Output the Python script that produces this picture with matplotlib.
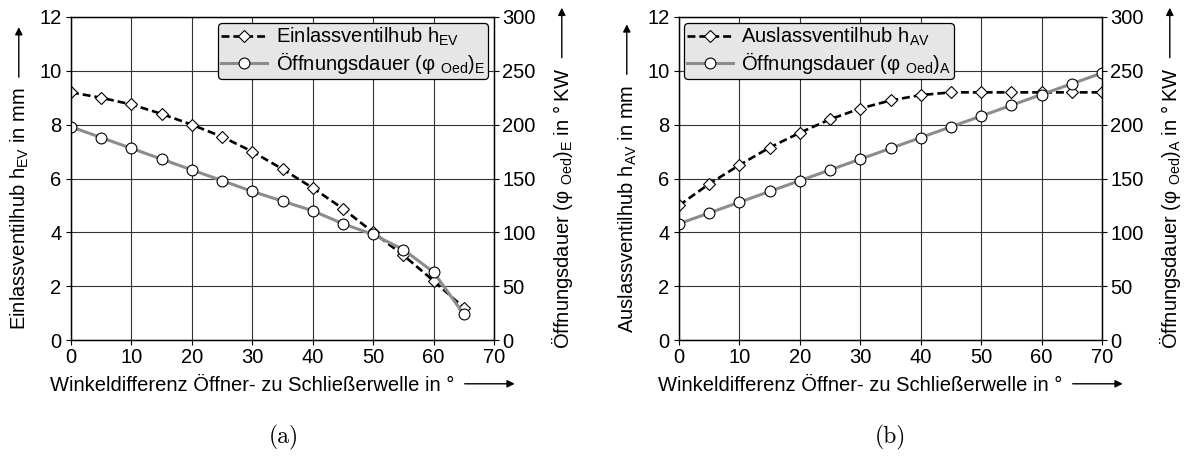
import matplotlib
matplotlib.use("Agg")
import matplotlib.pyplot as plt
from matplotlib.patches import FancyArrowPatch

# MARK: data

x_ev = [0, 5, 10, 15, 20, 25, 30, 35, 40, 45, 50, 55, 60, 65]
h_ev = [9.2, 9.0, 8.75, 8.4, 8.0, 7.55, 7.0, 6.35, 5.65, 4.88, 4.0, 3.15, 2.2, 1.2]
phi_e = [198, 188, 178, 168, 158, 148, 138, 129, 120, 108, 98, 84, 63, 24]

x_av = [0, 5, 10, 15, 20, 25, 30, 35, 40, 45, 50, 55, 60, 65, 70]
h_av = [5.0, 5.8, 6.5, 7.15, 7.7, 8.2, 8.6, 8.9, 9.1, 9.2, 9.2, 9.2, 9.2, 9.2, 9.2]
phi_a = [108, 118, 128, 138, 148, 158, 168, 178, 188, 198, 208, 218, 228, 238, 248]

x_ticks = [0, 10, 20, 30, 40, 50, 60, 70]
h_ticks = [0, 2, 4, 6, 8, 10, 12]
phi_ticks = [0, 50, 100, 150, 200, 250, 300]

xlabel = "Winkeldifferenz Öffner- zu Schließerwelle in °"
panels = [
    dict(x=x_ev, h=h_ev, phi=phi_e,
         h_name=r"Einlassventilhub h$_{\mathrm{EV}}$",
         phi_name=r"Öffnungsdauer (φ $_{\mathrm{Oed}}$)$_{\mathrm{E}}$",
         ylabel=r"Einlassventilhub h$_{\mathrm{EV}}$ in mm",
         y2label="Öffnungsdauer (φ $_{\\mathrm{Oed}}$)$_{\\mathrm{E}}$ in °\u2009KW",
         caption="(a)"),
    dict(x=x_av, h=h_av, phi=phi_a,
         h_name=r"Auslassventilhub h$_{\mathrm{AV}}$",
         phi_name=r"Öffnungsdauer (φ $_{\mathrm{Oed}}$)$_{\mathrm{A}}$",
         ylabel=r"Auslassventilhub h$_{\mathrm{AV}}$ in mm",
         y2label="Öffnungsdauer (φ $_{\\mathrm{Oed}}$)$_{\\mathrm{A}}$ in °\u2009KW",
         caption="(b)"),
]

# MARK: style

W, H, DPI = 1184, 463, 100
FS = 14.5
CAP = 0.716 * FS * DPI / 72   # cap height in px
GAP, ALEN = 10, 50

plt.rcParams["font.family"] = ["Liberation Sans", "DejaVu Sans"]
plt.rcParams["mathtext.fontset"] = "custom"
plt.rcParams["mathtext.rm"] = "Liberation Sans"
plt.rcParams["mathtext.it"] = "Liberation Sans:italic"
plt.rcParams["mathtext.sf"] = "Liberation Sans"
plt.rcParams["font.size"] = FS

GRAY = "#8c8c8c"

# pixel layout (x from left, y from top)
AX_LEFT = [71, 679]
AX_W = 423
AX_TOP, AX_BOT = 17, 340
CAPTION_X = [284, 890]


def fx(px):
    return px / W


def fy(py):
    return 1 - py / H


def arrow(fig, p0, p1):
    fig.add_artist(FancyArrowPatch((fx(p0[0]), fy(p0[1])), (fx(p1[0]), fy(p1[1])),
                                   transform=fig.transFigure, arrowstyle="-|>",
                                   mutation_scale=11, lw=1.0, color="k",
                                   shrinkA=0, shrinkB=0))


def hlabel(fig, rend, s, cx, base_y):
    t = fig.text(0, fy(base_y), s, ha="left", va="baseline")
    w = t.get_window_extent(rend).width
    start = cx - (w + GAP + ALEN) / 2
    t.set_x(fx(start))
    ay = base_y - CAP / 2
    arrow(fig, (start + w + GAP, ay), (start + w + GAP + ALEN, ay))


def vlabel(fig, rend, s, base_x, cy):
    t = fig.text(fx(base_x), 0, s, ha="left", va="baseline", rotation=90,
                 rotation_mode="anchor")
    l = t.get_window_extent(rend).height
    start = cy + (l + GAP + ALEN) / 2
    t.set_y(fy(start))
    ax_ = base_x - CAP / 2
    arrow(fig, (ax_, start - l - GAP), (ax_, start - l - GAP - ALEN))


fig = plt.figure(figsize=(W / DPI, H / DPI), dpi=DPI)
rend = fig.canvas.get_renderer()

for i, p in enumerate(panels):
    left = AX_LEFT[i]
    ax = fig.add_axes([fx(left), fy(AX_BOT), AX_W / W, (AX_BOT - AX_TOP) / H])
    ax2 = ax.twinx()

    l1, = ax.plot(p["x"], p["h"], color="k", lw=1.9, ls=(0, (3, 1.5)),
                  marker="D", ms=5.8, mfc="white", mec="k", mew=0.8)
    l2, = ax2.plot(p["x"], p["phi"], color=GRAY, lw=2.2,
                   marker="o", ms=7.8, mfc="white", mec="k", mew=0.8)

    ax.set_xlim(0, 70)
    ax.set_ylim(0, 12)
    ax2.set_ylim(0, 300)
    ax.set_xticks(x_ticks)
    ax.set_yticks(h_ticks)
    ax2.set_yticks(phi_ticks)
    ax.grid(True, color="#333333", lw=0.8)
    ax.set_axisbelow(True)
    for a in (ax, ax2):
        for sp in a.spines.values():
            sp.set_linewidth(0.9)
    ax.tick_params(axis="both", direction="out", length=3.5, width=0.8, labelsize=FS)
    ax.tick_params(axis="y", pad=3.5)
    ax.tick_params(axis="x", pad=2.5)
    ax2.tick_params(axis="y", direction="out", length=3.5, width=0.8, labelsize=FS, pad=2.5)

    if i == 0:
        loc, anchor = "upper right", (0.985, 0.982)
    else:
        loc, anchor = "upper left", (0.012, 0.982)
    leg = ax2.legend([l1, l2], [p["h_name"], p["phi_name"]], loc=loc,
                     bbox_to_anchor=anchor, borderaxespad=0, handlelength=2.3,
                     handletextpad=0.4, borderpad=0.15, labelspacing=0.1,
                     fancybox=True, framealpha=1)
    leg.get_frame().set_facecolor("#e6e6e6")
    leg.get_frame().set_edgecolor("k")
    leg.get_frame().set_linewidth(0.9)

    # axis labels with arrows
    cx = left + AX_W / 2
    cy = (AX_TOP + AX_BOT) / 2
    hlabel(fig, rend, xlabel, cx, 391)
    vlabel(fig, rend, p["ylabel"], left - 45, cy)
    vlabel(fig, rend, p["y2label"], left + AX_W + 75, cy)

    fig.text(fx(CAPTION_X[i]), fy(437), p["caption"], ha="center", va="center",
             family="cmr10", fontsize=17)

fig.savefig("out.png", dpi=DPI)
